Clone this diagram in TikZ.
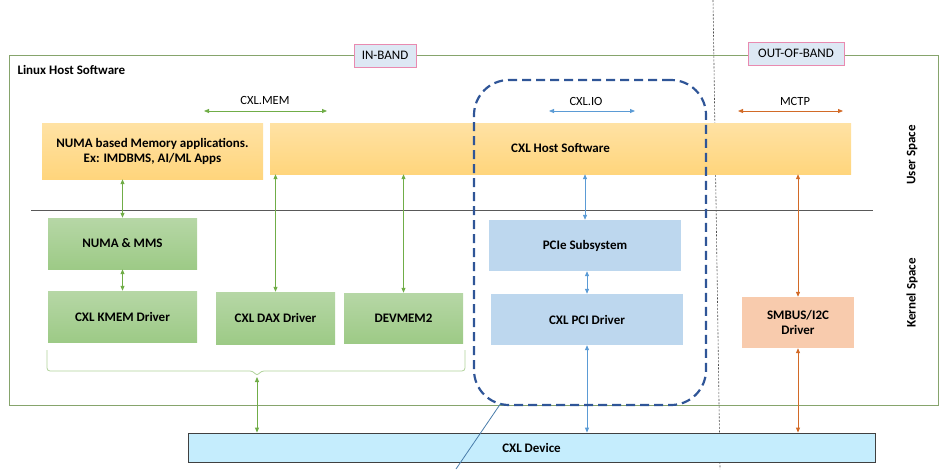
\documentclass[tikz,border=0pt]{standalone}
\usepackage{fontspec}
\setmainfont{Carlito}
\usetikzlibrary{arrows.meta}
\definecolor{apptop}{HTML}{FFE2A4}
\definecolor{appbot}{HTML}{FFD57C}
\definecolor{kerntop}{HTML}{B6D7A6}
\definecolor{kernbot}{HTML}{9DCA86}
\definecolor{iofill}{HTML}{BDD7EE}
\definecolor{smbfill}{HTML}{F8CBAD}
\definecolor{devfill}{HTML}{C5EDFD}
\definecolor{memgreen}{HTML}{70AD47}
\definecolor{ioblue}{HTML}{5B9BD5}
\definecolor{mctporange}{HTML}{D26A27}
\definecolor{hostline}{HTML}{86A46C}
\definecolor{tagpink}{HTML}{E98AB0}
\definecolor{tagblue}{HTML}{DDE8F4}
\definecolor{framblue}{HTML}{2F5597}
\tikzset{>/.tip={Triangle[length=5pt,width=4pt]},
  box/.style={inner sep=0pt, align=center, font=\fontsize{13}{15}\selectfont\bfseries},
  appbox/.style={box, top color=apptop, bottom color=appbot},
  kernbox/.style={box, top color=kerntop, bottom color=kernbot},
  iobox/.style={box, fill=iofill},
  bandtag/.style={draw=tagpink, fill=tagblue, line width=0.8pt, inner sep=0pt,
    font=\fontsize{13}{15}\selectfont},
  proto/.style={font=\fontsize{12.5}{14}\selectfont},
  memline/.style={<->, draw=memgreen, line width=0.8pt},
  ioline/.style={<->, draw=ioblue, line width=0.8pt},
  mctpline/.style={<->, draw=mctporange, line width=0.8pt}}

\begin{document}
\begin{tikzpicture}[x=1pt, y=-1pt]
\useasboundingbox (0,0) rectangle (949,469);
% host frame and band split
\node[draw=hostline, line width=0.8pt, minimum width=929, minimum height=350, inner sep=0pt] (host) at (473.5,230) {};
\node[anchor=west, font=\fontsize{13}{15}\selectfont\bfseries] (hostlab) at (14,70) {Linux Host Software};
\coordinate (dtop) at (713,0);
\coordinate (dbot) at (720,469);
\draw[gray!60!black, line width=0.6pt, dash pattern=on 2pt off 1.5pt] (dtop) -- (dbot);
\node[bandtag, minimum width=62, minimum height=23] (inband) at (385,55.5) {IN-BAND};
\node[bandtag, minimum width=96, minimum height=23] (oob) at (796,53.5) {OUT-OF-BAND};

% protocols
\coordinate (memL) at (204,111);  \coordinate (memR) at (327,111);
\coordinate (ioL) at (549,111);   \coordinate (ioR) at (635,111);
\coordinate (mctpL) at (738,111); \coordinate (mctpR) at (843,111);
\draw[memline] (memL) -- (memR);
\draw[ioline] (ioL) -- (ioR);
\draw[mctpline] (mctpL) -- (mctpR);
\node[proto] (memlab) at (265,100) {CXL.MEM};
\node[proto] (iolab) at (586,101) {CXL.IO};
\node[proto] (mctplab) at (795,101) {MCTP};

% user space
\node[appbox, minimum width=221, minimum height=56] (numaapp) at (152.5,151) {NUMA based Memory applications.\\Ex: IMDBMS, AI/ML Apps};
\node[appbox, minimum width=581, minimum height=51] (hostsw) at (560.5,148.5) {CXL Host Software};
\coordinate (kl) at (31,210);
\coordinate (kr) at (873,210);
\draw[gray!70!black, line width=0.8pt] (kl) -- (kr);
\node[rotate=90, box] (userlab) at (912,155) {User Space};
\node[rotate=90, box] (kernlab) at (912,293) {Kernel Space};

% kernel space
\node[kernbox, minimum width=149, minimum height=51] (numamms) at (122.5,243.5) {NUMA \& MMS};
\node[kernbox, minimum width=149, minimum height=51] (kmem) at (122.5,316.5) {CXL KMEM Driver};
\node[kernbox, minimum width=119, minimum height=52] (dax) at (275.5,318) {CXL DAX Driver};
\node[kernbox, minimum width=119, minimum height=50] (devmem) at (403.5,318) {DEVMEM2};
\node[iobox, minimum width=192, minimum height=51] (pcie) at (585,245.5) {PCIe Subsystem};
\node[iobox, minimum width=192, minimum height=51] (pcidrv) at (587,319.5) {CXL PCI Driver};
\node[box, fill=smbfill, minimum width=112, minimum height=51] (smbus) at (798,322.5) {SMBUS/I2C\\Driver};

% device
\node[box, draw=black!75, fill=devfill, line width=0.8pt, minimum width=687, minimum height=29] (device) at (531.5,447.5) {CXL Device};

% brace over the memory drivers
\coordinate (bmid) at (257,377);
\draw[memgreen!55, line width=0.8pt, rounded corners=3pt]
  (47,350) -- (47,371) -- (253,371) -- (257,376) -- (261,371) -- (465,371) -- (465,350);

% links
\draw[memline] (numamms.north |- numaapp.south) -- (numamms.north);
\draw[memline] (numamms) -- (kmem);
\draw[memline] (dax.north |- hostsw.south) -- (dax.north);
\draw[memline] (devmem.north |- hostsw.south) -- (devmem.north);
\draw[memline] (bmid) -- (bmid |- device.north);
\draw[ioline] (pcie.north |- hostsw.south) -- (pcie.north);
\draw[ioline] (pcidrv.north |- pcie.south) -- (pcidrv.north);
\draw[ioline] (pcidrv.south) -- (pcidrv.south |- device.north);
\draw[mctpline] (smbus.north |- hostsw.south) -- (smbus.north);
\draw[mctpline] (smbus.south) -- (smbus.south |- device.north);

% CXL.IO frame with callout
\node[draw=framblue, line width=2.2pt, dash pattern=on 9pt off 5pt, rounded corners=35pt,
  minimum width=232, minimum height=325, inner sep=0pt] (ioframe) at (590,242.5) {};
\coordinate (calltip) at (501,403);
\coordinate (callend) at (456,469);
\draw[ioblue!80!black, line width=0.8pt] (calltip) -- (callend);
\end{tikzpicture}
\end{document}
